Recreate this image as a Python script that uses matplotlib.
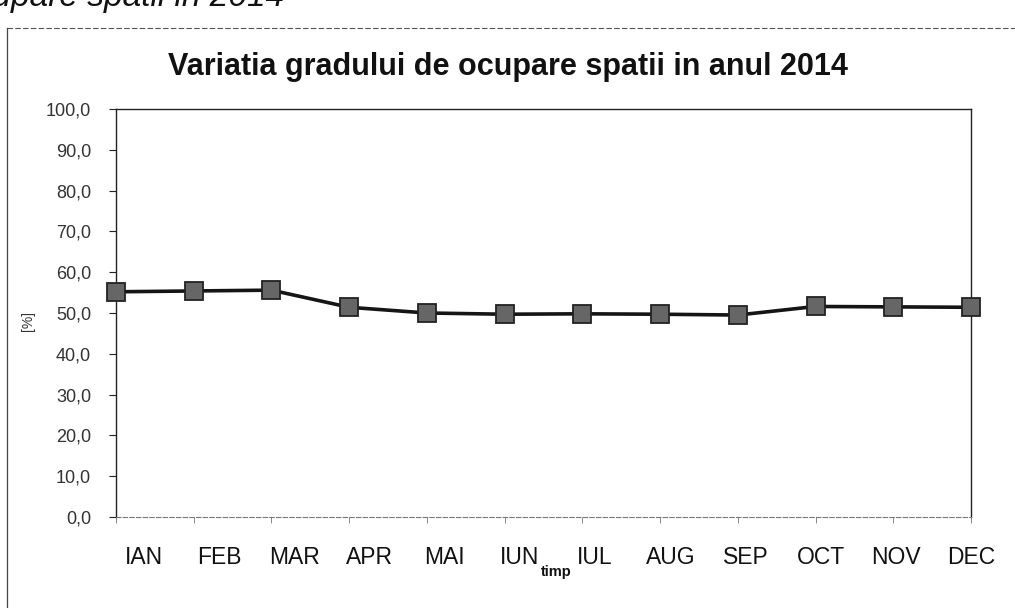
import matplotlib
matplotlib.use('Agg')
import matplotlib.pyplot as plt
import matplotlib.transforms as mtransforms
from matplotlib.lines import Line2D

plt.rcParams['font.family'] = ['Liberation Sans', 'DejaVu Sans']

# data
months = ['IAN', 'FEB', 'MAR', 'APR', 'MAI', 'IUN', 'IUL', 'AUG', 'SEP', 'OCT', 'NOV', 'DEC']
ocupare = [55.2, 55.4, 55.6, 51.4, 50.0, 49.7, 49.8, 49.7, 49.5, 51.6, 51.5, 51.4]
y_ticks = [0, 10, 20, 30, 40, 50, 60, 70, 80, 90, 100]

fig = plt.figure(figsize=(10.15, 6.08), dpi=100)
ax = fig.add_axes([0.1143, 0.1497, 0.8424, 0.671])

x = list(range(len(months)))
ax.plot(x, ocupare, color='#151515', lw=2.6, marker='s', markersize=13,
        markerfacecolor='#666666', markeredgecolor='#222222', markeredgewidth=1.3,
        clip_on=False, zorder=5)

ax.set_xlim(0, len(months) - 1)
ax.set_ylim(0, 100)
ax.set_yticks(y_ticks)
ax.set_yticklabels([('%.1f' % v).replace('.', ',') for v in y_ticks])
ax.tick_params(axis='y', direction='out', length=5, width=0.8, pad=13,
               labelsize=13, labelcolor='#333333', color='#222222')

ax.set_xticks(x)
ax.set_xticklabels(months)
ax.tick_params(axis='x', direction='out', length=4, width=0.6, pad=17,
               labelsize=16.5, labelcolor='#111111', color='#777777')
# month labels in the original are spread a bit wider than the points
for i, lab in enumerate(ax.get_xticklabels()):
    dx = (28 - 2.55 * i) / 100.0
    lab.set_transform(lab.get_transform() +
                      mtransforms.ScaledTranslation(dx, 0, fig.dpi_scale_trans))

for side in ['left', 'top', 'right']:
    ax.spines[side].set_color('#222222')
    ax.spines[side].set_linewidth(1.0)
ax.spines['bottom'].set_color('#777777')
ax.spines['bottom'].set_linewidth(0.8)
ax.spines['bottom'].set_linestyle((0, (4, 2)))

ax.set_ylabel('[%]', fontsize=10, color='#333333', labelpad=2)
ax.yaxis.set_label_coords(-0.095, 0.48)
ax.text(0.515, -0.135, 'timp', transform=ax.transAxes, ha='center', va='center',
        fontsize=10.5, fontweight='bold', color='#111111')

fig.text(0.5, 0.89, 'Variatia gradului de ocupare spatii in anul 2014',
         ha='center', va='center', fontsize=22, fontweight='bold', color='#111111')

# caption of the page, cut by the top of the scan
fig.text(-0.042, 1 - 6 / 608, 'ocupare spatii in 2014', ha='left', va='baseline',
         fontsize=24, fontstyle='italic', color='#111111')

# frame of the chart object
fig.add_artist(Line2D([7 / 1015, 1.0], [1 - 28 / 608, 1 - 28 / 608], transform=fig.transFigure,
                      color='#555555', lw=0.8, ls=(0, (5, 2))))
fig.add_artist(Line2D([7 / 1015, 7 / 1015], [0.0, 1 - 28 / 608], transform=fig.transFigure,
                      color='#444444', lw=0.9))

fig.savefig('out.png', dpi=100, facecolor='white')
